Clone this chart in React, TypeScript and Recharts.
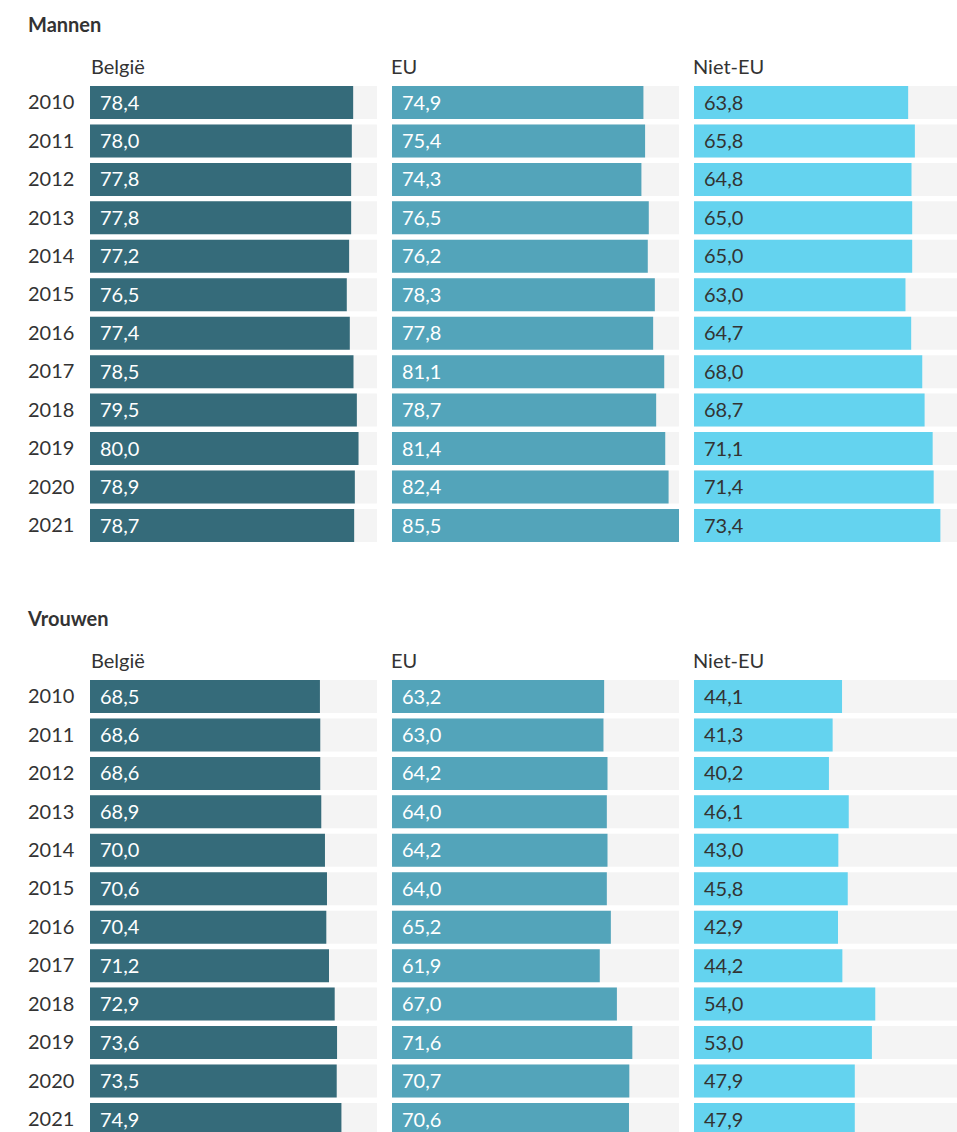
import { BarChart, Bar, XAxis, YAxis, LabelList } from "recharts";

const years = ["2010", "2011", "2012", "2013", "2014", "2015", "2016", "2017", "2018", "2019", "2020", "2021"];
const groups = ["België", "EU", "Niet-EU"];

const mannenBelgie = [78.4, 78.0, 77.8, 77.8, 77.2, 76.5, 77.4, 78.5, 79.5, 80.0, 78.9, 78.7];
const mannenEU = [74.9, 75.4, 74.3, 76.5, 76.2, 78.3, 77.8, 81.1, 78.7, 81.4, 82.4, 85.5];
const mannenNietEU = [63.8, 65.8, 64.8, 65.0, 65.0, 63.0, 64.7, 68.0, 68.7, 71.1, 71.4, 73.4];

const vrouwenBelgie = [68.5, 68.6, 68.6, 68.9, 70.0, 70.6, 70.4, 71.2, 72.9, 73.6, 73.5, 74.9];
const vrouwenEU = [63.2, 63.0, 64.2, 64.0, 64.2, 64.0, 65.2, 61.9, 67.0, 71.6, 70.7, 70.6];
const vrouwenNietEU = [44.1, 41.3, 40.2, 46.1, 43.0, 45.8, 42.9, 44.2, 54.0, 53.0, 47.9, 47.9];

const colors = ["#356b7a", "#53a4ba", "#64d3ef"];
const labelColors = ["#ffffff", "#ffffff", "#333333"];

const FONT = "Lato, 'Noto Sans', sans-serif";
const TEXT_SIZE = 20;
const ROW = 38.45;
const CHART_H = ROW * years.length;
const COL_W = 287;
const COL_X = [90, 392, 694];
const YEAR_W = 62;

const fmt = (v: number) => v.toFixed(1).replace(".", ",");

// year labels sit left-aligned at the chart's left edge
function YearTick({ y, payload }: any) {
  return (
    <text x={0} y={y} dy={7} textAnchor="start" fill="#333" fontSize={TEXT_SIZE} fontFamily={FONT}>
      {payload.value}
    </text>
  );
}

function Column({ values, index, showYears }: { values: number[]; index: number; showYears: boolean }) {
  const data = years.map((year, i) => ({ year, value: values[i] }));
  return (
    <BarChart
      width={COL_W + (showYears ? YEAR_W : 0)}
      height={CHART_H}
      data={data}
      layout="vertical"
      margin={{ top: 0, right: 0, bottom: 0, left: 0 }}
    >
      <XAxis type="number" domain={[0, 85.5]} hide />
      <YAxis
        type="category"
        dataKey="year"
        hide={!showYears}
        width={YEAR_W}
        axisLine={false}
        tickLine={false}
        tick={<YearTick />}
      />
      <Bar dataKey="value" fill={colors[index]} barSize={33} background={{ fill: "#f4f4f4" }} isAnimationActive={false}>
        <LabelList
          dataKey="value"
          position="insideLeft"
          offset={10}
          formatter={(v: any) => fmt(Number(v))}
          fill={labelColors[index]}
          fontSize={TEXT_SIZE}
          fontFamily={FONT}
        />
      </Bar>
    </BarChart>
  );
}

function Section({ title, top, series }: { title: string; top: number; series: number[][] }) {
  return (
    <>
      <div style={{ position: "absolute", left: 28, top: top, fontSize: 20, fontWeight: 700, color: "#333", lineHeight: "20px" }}>
        {title}
      </div>
      {groups.map((g, i) => (
        <div key={g} style={{ position: "absolute", left: COL_X[i] + (i === 0 ? 1 : -1), top: top + 41, fontSize: TEXT_SIZE, color: "#333", lineHeight: "22px" }}>
          {g}
        </div>
      ))}
      {series.map((vals, i) => (
        <div key={i} style={{ position: "absolute", left: COL_X[i] - (i === 0 ? YEAR_W : 0), top: top + 69.3 }}>
          <Column values={vals} index={i} showYears={i === 0} />
        </div>
      ))}
    </>
  );
}

export default function App() {
  return (
    <div
      style={{
        position: "absolute",
        left: 0,
        top: 0,
        width: 957,
        height: 1132,
        overflow: "hidden",
        background: "#fff",
        fontFamily: FONT,
      }}
    >
      <Section title="Mannen" top={14} series={[mannenBelgie, mannenEU, mannenNietEU]} />
      <Section title="Vrouwen" top={608} series={[vrouwenBelgie, vrouwenEU, vrouwenNietEU]} />
    </div>
  );
}
